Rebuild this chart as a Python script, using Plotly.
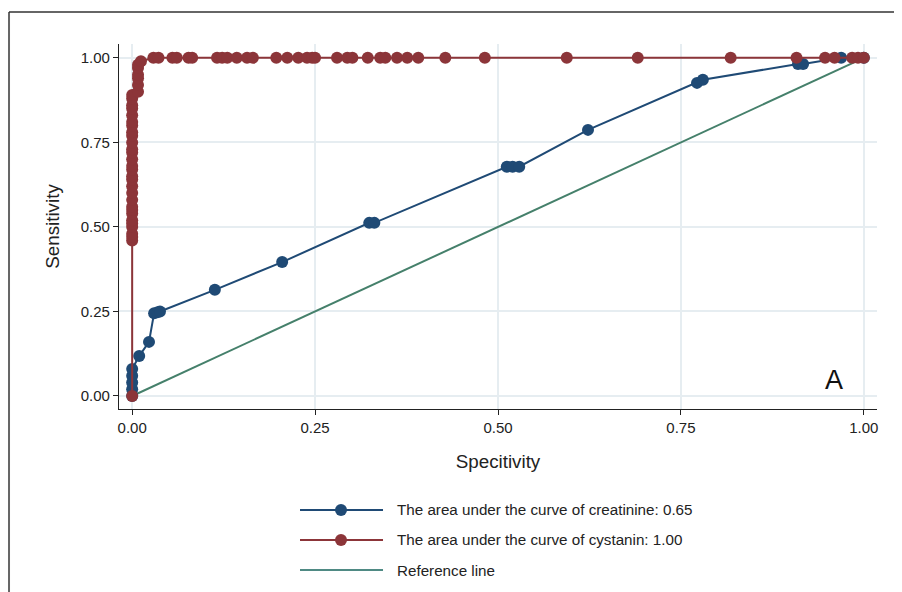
import plotly.graph_objects as go

# Creatinine ROC points (1 - specificity on x as labelled "Specitivity", sensitivity on y)
creat_x = [0.0, 0.0, 0.0, 0.0, 0.0, 0.0096, 0.023, 0.030, 0.035, 0.038, 0.113, 0.205,
           0.324, 0.331, 0.512, 0.520, 0.529, 0.623, 0.772, 0.780, 0.910, 0.917, 0.969, 1.0]
creat_y = [0.0, 0.02, 0.04, 0.06, 0.08, 0.118, 0.16, 0.245, 0.248, 0.25, 0.314, 0.396,
           0.512, 0.512, 0.678, 0.678, 0.678, 0.787, 0.926, 0.935, 0.982, 0.982, 1.0, 1.0]

# Cystatin ROC points
cyst_x = [0.0, 0.0, 0.0, 0.0, 0.0, 0.0, 0.0, 0.0, 0.0, 0.0, 0.0, 0.0, 0.0, 0.0, 0.0,
          0.0, 0.0, 0.0, 0.0, 0.0, 0.0, 0.0, 0.0, 0.0, 0.0, 0.0, 0.0, 0.0, 0.0, 0.0,
          0.008, 0.008, 0.008, 0.008, 0.008, 0.008, 0.012,
          0.029, 0.036, 0.055, 0.061, 0.077, 0.082, 0.116, 0.123, 0.130, 0.143, 0.157, 0.165,
          0.197, 0.212, 0.227, 0.239, 0.246, 0.250, 0.280, 0.294, 0.301, 0.322, 0.339, 0.346,
          0.362, 0.376, 0.391, 0.428, 0.482, 0.594, 0.691, 0.818, 0.908, 0.947, 0.960,
          0.984, 0.992, 1.0]
cyst_y = [0.0, 0.46, 0.47, 0.48, 0.50, 0.51, 0.52, 0.54, 0.55, 0.56, 0.58, 0.60, 0.62,
          0.64, 0.65, 0.67, 0.68, 0.70, 0.72, 0.73, 0.75, 0.77, 0.78, 0.80, 0.81, 0.83,
          0.85, 0.86, 0.88, 0.89,
          0.90, 0.92, 0.94, 0.95, 0.97, 0.98, 0.99,
          1.0, 1.0, 1.0, 1.0, 1.0, 1.0, 1.0, 1.0, 1.0, 1.0, 1.0, 1.0,
          1.0, 1.0, 1.0, 1.0, 1.0, 1.0, 1.0, 1.0, 1.0, 1.0, 1.0, 1.0,
          1.0, 1.0, 1.0, 1.0, 1.0, 1.0, 1.0, 1.0, 1.0, 1.0, 1.0,
          1.0, 1.0, 1.0]

ref_x = [0.0, 1.0]
ref_y = [0.0, 1.0]

tick_vals = [0.0, 0.25, 0.5, 0.75, 1.0]
tick_text = ["0.00", "0.25", "0.50", "0.75", "1.00"]

legend_labels = ["The area under the curve of creatinine: 0.65",
                 "The area under the curve of cystanin: 1.00",
                 "Reference line"]

NAVY = "#1f4a75"
MAROON = "#8c3539"
GREEN = "#45806b"
NARROW = "Liberation Sans Narrow, Arial Narrow, sans-serif"

fig = go.Figure()
fig.add_trace(go.Scatter(x=ref_x, y=ref_y, mode="lines",
                         line=dict(color=GREEN, width=2), showlegend=False))
fig.add_trace(go.Scatter(x=creat_x, y=creat_y, mode="lines+markers",
                         line=dict(color=NAVY, width=2),
                         marker=dict(color=NAVY, size=12), showlegend=False))
fig.add_trace(go.Scatter(x=cyst_x, y=cyst_y, mode="lines+markers",
                         line=dict(color=MAROON, width=2),
                         marker=dict(color=MAROON, size=12), showlegend=False))

axis_common = dict(
    showgrid=True, gridcolor="#e6edf1", gridwidth=1.5,
    zeroline=False, showline=True, linecolor="#222", linewidth=1.2,
    ticks="outside", ticklen=5, tickcolor="#222",
    tickvals=tick_vals, ticktext=tick_text,
    tickfont=dict(family=NARROW, size=15, color="#222"),
)

fig.update_xaxes(range=[-0.018, 1.018], title=dict(text="Specitivity",
                 font=dict(family=NARROW, size=18.8, color="#222"), standoff=19),
                 **axis_common)
fig.update_yaxes(range=[-0.0385, 1.041], title=dict(text="Sensitivity",
                 font=dict(family=NARROW, size=18.8, color="#222"), standoff=16),
                 **axis_common)

shapes = []
# outer frame (left and top edges)
shapes.append(dict(type="line", xref="paper", yref="paper", x0=-0.1451, x1=-0.1451,
                   y0=1.0877, y1=-0.6, line=dict(color="#666", width=2)))
shapes.append(dict(type="line", xref="paper", yref="paper", x0=-0.1451, x1=1.2,
                   y0=1.0877, y1=1.0877, line=dict(color="#333", width=1.5)))

# custom legend
legend_colors = [NAVY, MAROON, "#4f8a84"]
legend_marker = [True, True, False]
row_y = [-0.2767, -0.3589, -0.4411]
annotations = []
for lab, col, mk, yy in zip(legend_labels, legend_colors, legend_marker, row_y):
    shapes.append(dict(type="line", xref="paper", yref="paper", x0=0.2388, x1=0.3483,
                       y0=yy, y1=yy, line=dict(color=col, width=2)))
    if mk:
        shapes.append(dict(type="circle", xref="paper", yref="paper",
                           xsizemode="pixel", ysizemode="pixel",
                           xanchor=0.2929, yanchor=yy, x0=-6, x1=6, y0=-6, y1=6,
                           fillcolor=col, line=dict(color=col, width=0)))
    annotations.append(dict(text=lab, xref="paper", yref="paper", x=0.3641, y=yy,
                            xanchor="left", yanchor="middle", showarrow=False,
                            font=dict(family=NARROW, size=15.2, color="#222")))

annotations.append(dict(text="A", xref="x", yref="y", x=0.959, y=0.047,
                        showarrow=False, xanchor="center", yanchor="middle",
                        font=dict(family="Liberation Sans, Arial, sans-serif", size=27,
                                  color="#111")))

fig.update_layout(
    width=894, height=584,
    margin=dict(l=111, r=25, t=36, b=183, autoexpand=False),
    paper_bgcolor="white", plot_bgcolor="white",
    shapes=shapes, annotations=annotations, showlegend=False,
)

fig.write_html("out.html")
